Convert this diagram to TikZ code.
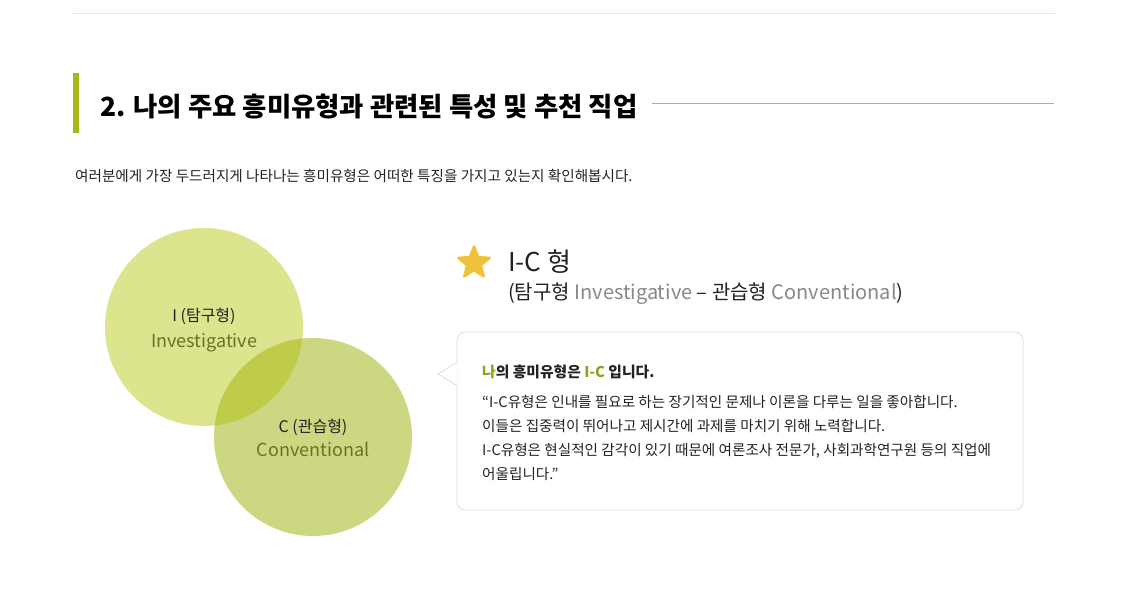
\documentclass[tikz,border=0pt]{standalone}
\usepackage{fontspec}
\setmainfont{Noto Sans CJK KR}
\usetikzlibrary{shapes.geometric}
\definecolor{barg}{RGB}{166,184,26}
\definecolor{cI}{RGB}{220,228,142}
\definecolor{cC}{RGB}{205,214,128}
\definecolor{cIC}{RGB}{191,204,74}
\definecolor{olive}{RGB}{107,113,38}
\definecolor{hl}{RGB}{143,162,29}
\definecolor{txt}{RGB}{34,34,34}
\definecolor{gtxt}{RGB}{136,136,136}
\definecolor{rule}{RGB}{230,230,230}
\definecolor{boxb}{RGB}{221,221,221}
\definecolor{starc}{RGB}{240,194,58}
\tikzset{
  lbl/.style={inner sep=0pt, anchor=base west, text=txt},
  clbl/.style={inner sep=0pt, anchor=base, text=txt},
  body/.style={lbl, font=\fontsize{14.6}{17}\selectfont},
}
\begin{document}
\begin{tikzpicture}[x=1pt,y=-1pt]
\useasboundingbox[fill=white] (0,0) rectangle (1145,590);
% top rule
\coordinate (r1) at (73,13.5);
\coordinate (r2) at (1055,13.5);
\draw[rule, line width=1pt] (r1) -- (r2);
% title
\fill[barg] (73,73) rectangle (79,133);
\node[lbl, font=\fontsize{26.4}{30}\selectfont\bfseries, text=black] (title) at (100,116) {2. 나의 주요 흥미유형과 관련된 특성 및 추천 직업};
\coordinate (t1) at (652,103);
\coordinate (t2) at (1054,103);
\draw[gray!65, line width=1pt] (t1) -- (t2);
% subtitle
\node[lbl, font=\fontsize{14.6}{17}\selectfont] (sub) at (75,181) {여러분에게 가장 두드러지게 나타나는 흥미유형은 어떠한 특징을 가지고 있는지 확인해봅시다.};
% circles
\fill[cI] (204,327) circle (99);
\fill[cC] (313,437) circle (99);
\begin{scope}
\clip (204,327) circle (99);
\fill[cIC] (313,437) circle (99);
\end{scope}
\node[clbl, font=\fontsize{16}{19}\selectfont] (i1) at (204,321) {I (탐구형)};
\node[clbl, font=\fontsize{18}{22}\selectfont, text=olive] (i2) at (204,347) {Investigative};
\node[clbl, font=\fontsize{16}{19}\selectfont] (c1) at (313,432) {C (관습형)};
\node[clbl, font=\fontsize{18}{22}\selectfont, text=olive] (c2) at (313,456) {Conventional};
% star and heading
\node[star, star points=5, star point ratio=2.3, minimum size=33pt, inner sep=0pt, fill=starc, draw=starc, line width=2.5pt, line join=round] (star) at (474,263) {};
\node[lbl, font=\fontsize{26}{30}\selectfont] (ic) at (508,271) {I-C 형};
\node[lbl, font=\fontsize{20}{24}\selectfont] (ic2) at (508,299) {(탐구형 \textcolor{gtxt}{Investigative} – 관습형 \textcolor{gtxt}{Conventional})};
% box
\draw[boxb, fill=white, line width=0.8pt, rounded corners=8pt] (457,332) rectangle (1023,510);
\coordinate (pa) at (457.5,362);
\coordinate (pt) at (438,374);
\coordinate (pb) at (457.5,386);
\fill[white] (pa) -- (pt) -- (pb) -- cycle;
\draw[boxb, line width=0.8pt, line join=miter] (pa) -- (pt) -- (pb);
\node[lbl, font=\fontsize{14.8}{18}\selectfont\bfseries] (b0) at (482,377) {\textcolor{hl}{나}의 흥미유형은 \textcolor{hl}{I-C} 입니다.};
\node[body] (b1) at (482,407) {“I-C유형은 인내를 필요로 하는 장기적인 문제나 이론을 다루는 일을 좋아합니다.};
\node[body] (b2) at (482,431) {이들은 집중력이 뛰어나고 제시간에 과제를 마치기 위해 노력합니다.};
\node[body] (b3) at (482,455) {I-C유형은 현실적인 감각이 있기 때문에 여론조사 전문가, 사회과학연구원 등의 직업에};
\node[body] (b4) at (482,479) {어울립니다.”};
\end{tikzpicture}
\end{document}
